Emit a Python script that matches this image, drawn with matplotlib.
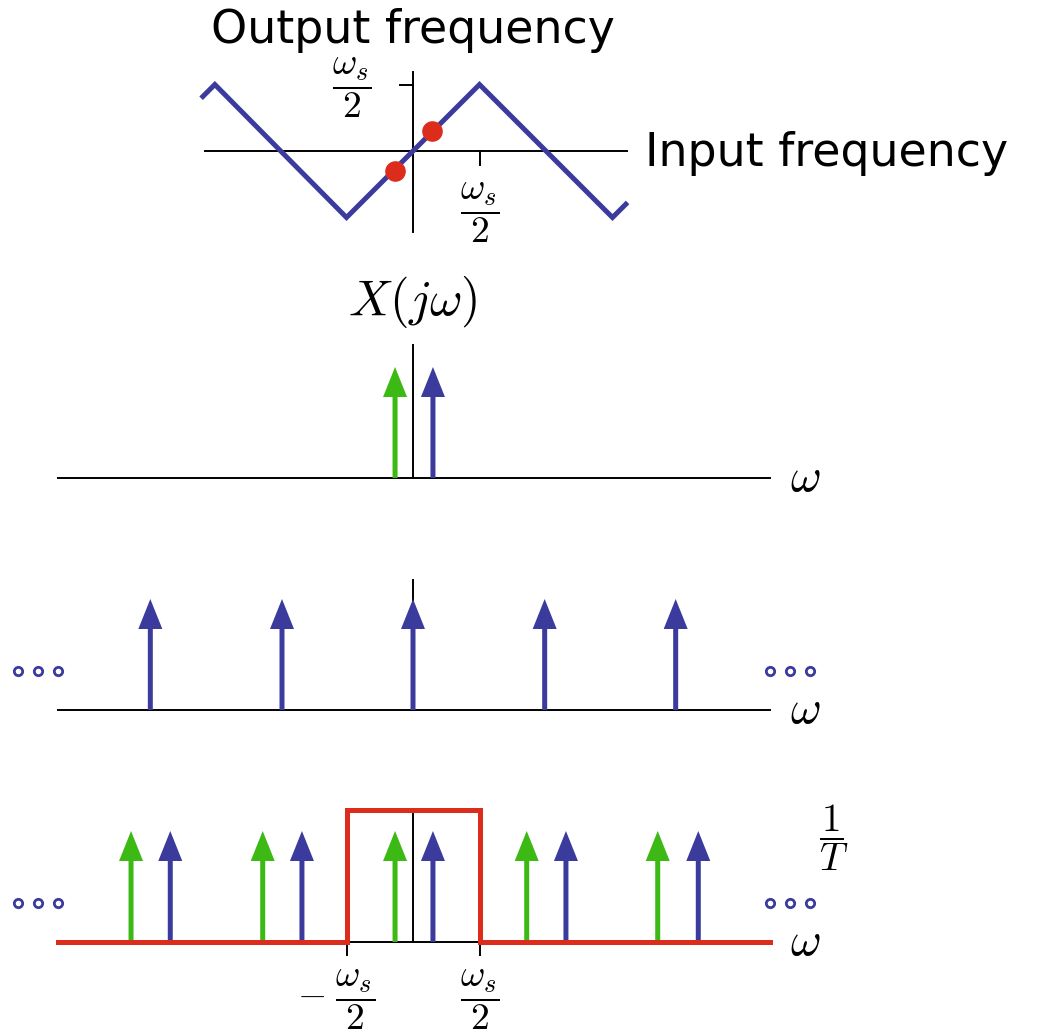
import numpy as np
import matplotlib
matplotlib.use("Agg")
import matplotlib.pyplot as plt

plt.rcParams['mathtext.fontset'] = 'cm'
plt.rcParams['font.family'] = ['DejaVu Sans']

BLUE = '#3b3b9e'
GREEN = '#3cb914'
RED = '#dc2c1c'

# frequencies in units of ws/2
tri_x = [-3.16, -2.98, -1.0, 1.0, 3.0, 3.2]
tri_y = [0.82, 1.0, -1.0, 1.0, -1.0, -0.8]
dot_x = [-0.27, 0.29]
dot_y = [-0.30, 0.30]

sig_green = [-0.27]
sig_blue = [0.30]

comb_blue = [-3.95, -1.97, 0.0, 1.98, 3.95]

samp_green = [-4.24, -2.26, -0.27, 1.71, 3.68]
samp_blue = [-3.65, -1.67, 0.30, 2.30, 4.29]

filt_x = [-5.34, -1.0, -1.0, 1.0, 1.0, 5.37]
filt_y = [0.0, 0.0, 1.19, 1.19, 0.0, 0.0]

dots_left = [-5.94, -5.64, -5.34]
dots_right = [5.37, 5.67, 5.97]

W, H = 1054, 1033
fig = plt.figure(figsize=(W / 100, H / 100), dpi=100)

XU = 66.5   # px per ws/2
X0 = 413.0  # px of zero frequency


def panel(top, bot, base, yscale):
    ax = fig.add_axes([0, 1 - bot / H, 1, (bot - top) / H])
    ax.set_xlim(-X0 / XU, (W - X0) / XU)
    ax.set_ylim(-(bot - base) / yscale, (base - top) / yscale)
    ax.axis('off')
    return ax


frac = r'$\dfrac{\omega_s}{2}$'
FS = 27

# ---- top: folding of input frequency
ax1 = panel(0, 250, 151, XU)
ax1.plot([-3.13, 3.22], [0, 0], color='k', lw=1.4)
ax1.plot([0, 0], [-1.22, 1.19], color='k', lw=1.4)
ax1.plot([-0.2, 0], [1, 1], color='k', lw=1.4)
ax1.plot([1, 1], [0, -0.21], color='k', lw=1.4)
ax1.plot(tri_x, tri_y, color=BLUE, lw=3.6, solid_joinstyle='miter')
ax1.scatter(dot_x, dot_y, s=220, color=RED, zorder=5, linewidths=0)
ax1.text(0.0, 1.62, 'Output frequency', fontsize=33, ha='center', va='baseline')
ax1.text(3.49, -0.23, 'Input frequency', fontsize=33, ha='left', va='baseline')
ax1.text(-0.92, 0.95, frac, fontsize=FS, ha='center', va='center')
ax1.text(1.0, -0.93, frac, fontsize=FS, ha='center', va='center')

AY = 111.0
aw = dict(width=5 / XU, head_width=24 / XU, head_length=30 / AY,
          length_includes_head=True, linewidth=0)


def arrows(ax, xs, color):
    for x in xs:
        ax.arrow(x, 0, 0, 1, color=color, zorder=4, **aw)


# ---- X(jw)
ax2 = panel(250, 500, 478, AY)
ax2.plot([-5.34, 5.37], [0, 0], color='k', lw=1.4)
ax2.plot([0, 0], [0, 1.2], color='k', lw=1.4)
arrows(ax2, sig_green, GREEN)
arrows(ax2, sig_blue, BLUE)
ax2.text(0, 1.59, r'$X(j\omega)$', fontsize=36, ha='center', va='center')
ax2.text(5.9, 0, r'$\omega$', fontsize=34, ha='center', va='center')

# ---- sampling comb
ax3 = panel(500, 740, 710, AY)
ax3.plot([-5.34, 5.37], [0, 0], color='k', lw=1.4)
ax3.plot([0, 0], [0, 1.17], color='k', lw=1.4)
arrows(ax3, comb_blue, BLUE)
ax3.plot(dots_left + dots_right, [0.35] * 6, 'o', ms=6, mfc='white',
         mec=BLUE, mew=2.0, ls='none')
ax3.text(5.9, 0, r'$\omega$', fontsize=34, ha='center', va='center')

# ---- sampled spectrum with reconstruction filter
ax4 = panel(740, 1033, 942, AY)
ax4.plot([-5.34, 5.37], [0, 0], color='k', lw=1.4)
ax4.plot([0, 0], [0, 1.17], color='k', lw=1.4)
ax4.plot([-1, -1], [0, -0.12], color='k', lw=1.4)
ax4.plot([1, 1], [0, -0.12], color='k', lw=1.4)
arrows(ax4, samp_green, GREEN)
arrows(ax4, samp_blue, BLUE)
ax4.plot(filt_x, filt_y, color=RED, lw=3.6, zorder=6, solid_joinstyle='miter')
ax4.plot(dots_left + dots_right, [0.35] * 6, 'o', ms=6, mfc='white',
         mec=BLUE, mew=2.0, ls='none')
ax4.text(5.9, 0, r'$\omega$', fontsize=34, ha='center', va='center')
ax4.text(6.32, 0.94, r'$\dfrac{1}{T}$', fontsize=28, ha='center', va='center')
ax4.text(-1.15, -0.52, r'$-\;\dfrac{\omega_s}{2}$', fontsize=FS, ha='center', va='center')
ax4.text(1.0, -0.52, frac, fontsize=FS, ha='center', va='center')

fig.savefig('out.png', dpi=100, facecolor='white')
